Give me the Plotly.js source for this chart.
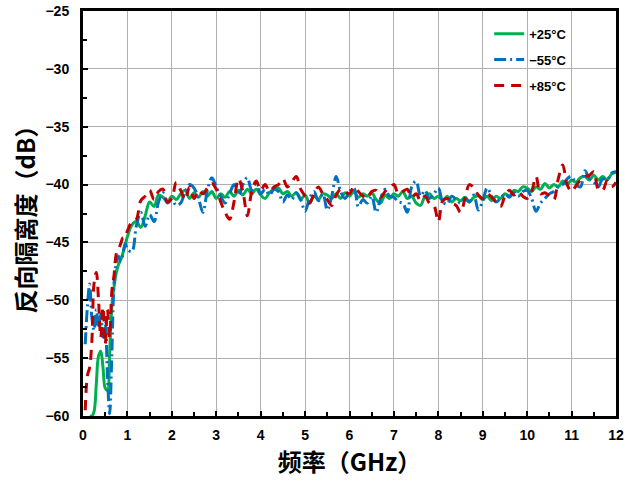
<!DOCTYPE html>
<html>
<head>
<meta charset="utf-8">
<script src="https://cdn.plot.ly/plotly-3.0.1.min.js"></script>
<style>html,body{margin:0;padding:0;background:#fff;}#chart{width:629px;height:487px;}</style>
</head>
<body>
<div id="chart"></div>
<script>
// Frequency grid (GHz)
const freq = [0.05,0.10,0.15,0.20,0.25,0.30,0.35,0.40,0.45,0.50,0.55,0.60,0.65,0.70,0.75,0.80,0.85,0.90,0.95,
1.0,1.1,1.2,1.3,1.4,1.5,1.6,1.7,1.8,1.9,
2.0,2.1,2.2,2.3,2.4,2.5,2.6,2.7,2.8,2.9,
3.0,3.1,3.2,3.3,3.4,3.5,3.6,3.7,3.8,3.9,
4.0,4.1,4.2,4.3,4.4,4.5,4.6,4.7,4.8,4.9,
5.0,5.1,5.2,5.3,5.4,5.5,5.6,5.7,5.8,5.9,
6.0,6.1,6.2,6.3,6.4,6.5,6.6,6.7,6.8,6.9,
7.0,7.1,7.2,7.3,7.4,7.5,7.6,7.7,7.8,7.9,
8.0,8.1,8.2,8.3,8.4,8.5,8.6,8.7,8.8,8.9,
9.0,9.1,9.2,9.3,9.4,9.5,9.6,9.7,9.8,9.9,
10.0,10.1,10.2,10.3,10.4,10.5,10.6,10.7,10.8,10.9,
11.0,11.1,11.2,11.3,11.4,11.5,11.6,11.7,11.8,11.9,12.0];

// +25°C reverse isolation (dB)
const iso25 = [null,null,-60,-60,-59.6,-57.2,-54.8,-54.4,-55.8,-57.6,-57.8,-54.5,-50.5,-48.8,-47.6,-46.9,-46.5,-45.9,-45.2,
-44.5,-43.5,-43.2,-43.7,-42.7,-41.5,-41.9,-40.9,-41.1,-41.5,
-41.0,-41.3,-40.8,-40.5,-41.2,-40.7,-41.1,-40.6,-41.0,-40.6,
-41.2,-40.8,-41.1,-40.6,-41.0,-40.5,-40.9,-40.4,-40.8,-40.4,
-40.9,-41.2,-40.7,-40.4,-40.3,-40.8,-40.6,-41.0,-40.7,-41.3,
-40.9,-41.6,-41.0,-41.3,-40.8,-40.9,-41.2,-40.8,-41.2,-40.7,
-41.0,-40.6,-41.1,-40.8,-41.0,-40.7,-41.3,-41.6,-40.9,-41.2,
-40.8,-41.0,-40.6,-41.2,-41.0,-41.6,-41.8,-41.0,-40.8,-41.2,
-41.0,-41.4,-41.0,-41.5,-41.2,-41.4,-41.1,-41.5,-41.1,-41.0,
-41.3,-41.0,-41.4,-41.0,-41.2,-40.8,-41.0,-40.5,-40.6,-40.2,
-40.3,-40.6,-40.2,-40.4,-39.9,-40.3,-40.0,-40.2,-39.7,-40.0,
-39.6,-39.8,-39.4,-39.3,-39.6,-39.2,-39.6,-39.3,-39.6,-39.1,-38.9];

// -55°C reverse isolation (dB)
const isoM55 = [-53.8,-50.5,-48.6,-51.5,-52.6,-50.8,-52.4,-51.2,-53.2,-52.0,-56.5,-59.8,-54.5,-48.5,-46.8,-46.2,-46.6,-46.0,-45.1,
-45.6,-45.8,-43.6,-42.4,-43.6,-42.6,-43.2,-41.5,-40.7,-41.6,
-41.3,-41.8,-41.6,-40.6,-40.0,-40.3,-41.2,-42.4,-40.5,-39.4,
-40.2,-41.0,-41.6,-40.8,-40.0,-40.9,-40.0,-39.4,-40.5,-40.0,
-40.8,-40.4,-40.9,-40.4,-40.6,-41.5,-40.9,-41.3,-40.7,-41.3,
-42.3,-41.2,-40.6,-41.4,-40.8,-42.2,-41.0,-39.3,-40.6,-41.2,
-40.6,-40.3,-41.9,-41.3,-41.6,-41.0,-42.4,-41.2,-40.4,-41.0,
-41.1,-41.5,-41.6,-42.4,-40.2,-39.7,-41.0,-40.5,-41.2,-40.8,
-40.3,-41.5,-41.7,-41.0,-41.3,-41.6,-41.2,-41.5,-40.9,-42.2,
-41.4,-40.3,-41.0,-41.5,-41.2,-40.8,-41.1,-40.7,-41.0,-40.6,
-40.5,-41.2,-42.3,-41.6,-41.2,-40.8,-40.6,-40.2,-40.0,-39.5,
-39.3,-40.0,-40.2,-38.8,-39.5,-39.8,-40.2,-39.5,-39.6,-39.0,-38.9];

// +85°C reverse isolation (dB)
const iso85 = [-59.5,-56.5,-55.8,-53.5,-48.5,-47.6,-50.0,-53.2,-50.6,-53.8,-50.8,-53.2,-49.2,-47.8,-46.0,-45.6,-45.1,-44.6,-44.6,
-44.0,-43.2,-43.0,-41.4,-41.0,-40.5,-41.3,-40.6,-40.4,-41.5,
-41.2,-39.8,-40.5,-41.3,-40.2,-41.2,-40.5,-40.8,-40.3,-39.9,
-40.4,-41.5,-42.4,-43.0,-41.5,-39.5,-40.6,-42.7,-40.6,-39.7,
-40.5,-40.0,-40.6,-40.2,-40.0,-39.5,-40.2,-39.8,-39.3,-40.4,
-41.0,-41.6,-40.8,-40.2,-40.8,-41.3,-41.8,-40.9,-40.4,-40.6,
-40.8,-40.2,-40.6,-41.0,-41.2,-40.6,-40.5,-41.1,-40.6,-40.3,
-40.0,-40.8,-40.6,-40.4,-41.1,-40.8,-41.4,-41.0,-41.6,-41.8,
-43.2,-41.4,-41.2,-41.6,-41.8,-42.4,-41.2,-40.0,-40.3,-40.9,
-41.2,-40.8,-41.1,-41.5,-41.9,-41.0,-40.5,-40.9,-40.6,-41.0,
-41.2,-40.6,-39.3,-40.8,-40.7,-41.0,-41.3,-39.5,-38.3,-40.0,
-40.6,-40.1,-39.6,-39.3,-39.2,-38.9,-40.4,-40.5,-39.7,-40.2,-39.8];

const seriesNames = ['+25°C', '\u221255°C', '+85°C'];
const xTicks = [0,1,2,3,4,5,6,7,8,9,10,11,12];
const yTicks = [-60,-55,-50,-45,-40,-35,-30,-25];

const traces = [
  {x: freq, y: iso25, name: seriesNames[0], legendgroup: 'a', type: 'scatter', mode: 'lines',
   line: {color: '#00b050', width: 3, shape: 'spline', smoothing: 1}},
  {x: freq, y: isoM55, name: seriesNames[1], legendgroup: 'b', type: 'scatter', mode: 'lines',
   line: {color: '#0070c0', width: 3, shape: 'spline', smoothing: 1, dash: '12px,4px,2px,4px'}},
  {x: freq, y: iso85, name: seriesNames[2], legendgroup: 'c', type: 'scatter', mode: 'lines',
   line: {color: '#c00000', width: 3, shape: 'spline', smoothing: 1, dash: '10px,7px'}}
];

const tickFont = {family: 'Liberation Sans, Arial, sans-serif', size: 14, color: '#000', weight: 'bold'};
const titleFont = {family: 'Noto Sans CJK SC, sans-serif', size: 24, color: '#000', weight: 'bold'};

const layout = {
  width: 629, height: 487,
  margin: {l: 83, r: 13, t: 11, b: 71},
  paper_bgcolor: '#fff', plot_bgcolor: '#fff',
  showlegend: true,
  legend: {x: 0.762, y: 0.981, xanchor: 'left', yanchor: 'top', bgcolor: 'rgba(0,0,0,0)',
           font: {family: 'Liberation Sans, Arial, sans-serif', size: 13, color: '#000', weight: 'bold'},
           traceorder: 'grouped', tracegroupgap: 6},
  xaxis: {range: [0, 12], tickvals: xTicks, ticktext: xTicks.map(String),
          ticks: 'inside', ticklen: 5, tickwidth: 2, tickcolor: '#000',
          minor: {dtick: 0.5, ticks: 'inside', ticklen: 4, tickwidth: 2, tickcolor: '#000', showgrid: false},
          showgrid: true, gridcolor: '#b0b0b0', gridwidth: 1,
          showline: true, linecolor: '#000', linewidth: 3, mirror: true, zeroline: false,
          tickfont: tickFont, ticklabelstandoff: 4,
          title: {text: '频率（GHz）', font: titleFont, standoff: 6}},
  yaxis: {range: [-60, -25], tickvals: yTicks, ticktext: yTicks.map(v => v < 0 ? '\u2212' + Math.abs(v) : String(v)),
          ticks: 'inside', ticklen: 5, tickwidth: 2, tickcolor: '#000',
          minor: {dtick: 2.5, ticks: 'inside', ticklen: 4, tickwidth: 2, tickcolor: '#000', showgrid: false},
          showgrid: true, gridcolor: '#b0b0b0', gridwidth: 1,
          showline: true, linecolor: '#000', linewidth: 3, mirror: true, zeroline: false,
          tickfont: tickFont, ticklabelstandoff: 8,
          title: {text: '反向隔离度（dB）', font: titleFont, standoff: 4}}
};

Plotly.newPlot('chart', traces, layout, {displayModeBar: false, staticPlot: true});
</script>
</body>
</html>
